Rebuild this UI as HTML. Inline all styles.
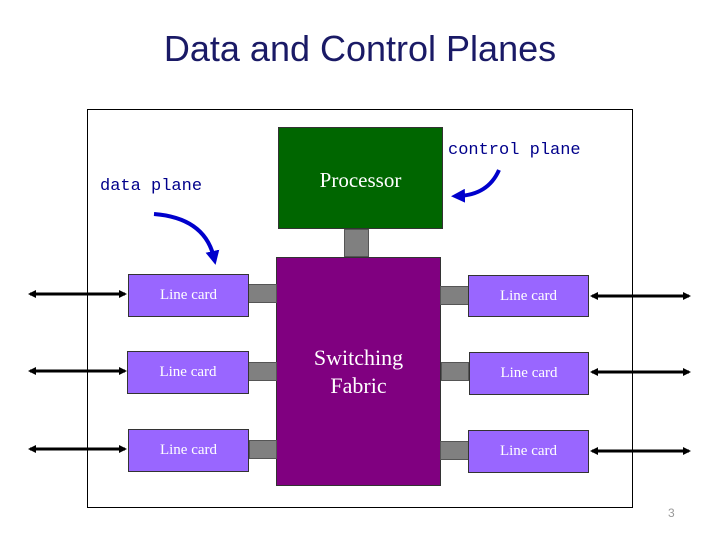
<!DOCTYPE html>
<html><head><style>
body{margin:0;width:720px;height:540px;background:#fff;position:relative;overflow:hidden;font-family:"Liberation Serif",serif}
.a{position:absolute;box-sizing:border-box}
.lc{background:#9966ff;border:1px solid #333;color:#fff;font-size:15px;display:flex;align-items:center;justify-content:center}
.g{background:#808080;border:1px solid #555}
</style></head><body>
<div class="a" style="left:0;top:28px;width:720px;text-align:center;font-family:'Liberation Sans',sans-serif;font-size:36px;color:#1a1a66">Data and Control Planes</div>
<div class="a" style="left:87px;top:109px;width:546px;height:399px;border:1px solid #000"></div>
<div class="a" style="left:278px;top:127px;width:165px;height:102px;background:#006600;border:1px solid #333;color:#fff;font-size:21px;text-align:center;padding-top:40px">Processor</div>
<div class="a g" style="left:344px;top:229px;width:25px;height:28px"></div>
<div class="a" style="left:276px;top:257px;width:165px;height:229px;background:#800080;border:1px solid #333;color:#fff;font-size:22px;text-align:center;padding-top:86px;line-height:28px">Switching<br>Fabric</div>
<div class="a" style="left:100px;top:177px;font-family:'Liberation Mono',monospace;font-size:17px;color:#00008b">data plane</div>
<div class="a" style="left:448px;top:141px;font-family:'Liberation Mono',monospace;font-size:17px;color:#00008b">control plane</div>
<div class="a g" style="left:248px;top:284px;width:29px;height:19px"></div>
<div class="a g" style="left:248px;top:362px;width:29px;height:19px"></div>
<div class="a g" style="left:249px;top:440px;width:28px;height:19px"></div>
<div class="a g" style="left:440px;top:286px;width:29px;height:19px"></div>
<div class="a g" style="left:441px;top:362px;width:28px;height:19px"></div>
<div class="a g" style="left:440px;top:441px;width:29px;height:19px"></div>
<div class="a lc" style="left:128px;top:274px;width:121px;height:43px">Line card</div>
<div class="a lc" style="left:127px;top:351px;width:122px;height:43px">Line card</div>
<div class="a lc" style="left:128px;top:429px;width:121px;height:43px">Line card</div>
<div class="a lc" style="left:468px;top:275px;width:121px;height:42px">Line card</div>
<div class="a lc" style="left:469px;top:352px;width:120px;height:43px">Line card</div>
<div class="a lc" style="left:468px;top:430px;width:121px;height:43px">Line card</div>
<div class="a" style="left:668px;top:506px;font-family:'Liberation Sans',sans-serif;font-size:12px;color:#999">3</div>
<svg class="a" style="left:0;top:0" width="720" height="540">
<defs><marker id="h" markerWidth="8" markerHeight="8" refX="6" refY="4" orient="auto-start-reverse" markerUnits="userSpaceOnUse"><path d="M0,0L8,4L0,8z" fill="#000"/></marker>
<marker id="b" markerWidth="14" markerHeight="14" refX="7" refY="7" orient="auto" markerUnits="userSpaceOnUse"><path d="M0,0L14,7L0,14z" fill="#0000cc"/></marker></defs>
<g stroke="#000" stroke-width="3" marker-start="url(#h)" marker-end="url(#h)">
<line x1="30" y1="294" x2="125" y2="294"/><line x1="30" y1="371" x2="125" y2="371"/><line x1="30" y1="449" x2="125" y2="449"/>
<line x1="592" y1="296" x2="689" y2="296"/><line x1="592" y1="372" x2="689" y2="372"/><line x1="592" y1="451" x2="689" y2="451"/>
</g>
<path d="M154,214 Q205,218 214,258" stroke="#0000cc" stroke-width="4" fill="none" marker-end="url(#b)"/>
<path d="M499,170 Q488,195 458,196" stroke="#0000cc" stroke-width="4" fill="none" marker-end="url(#b)"/>
</svg>
</body></html>
